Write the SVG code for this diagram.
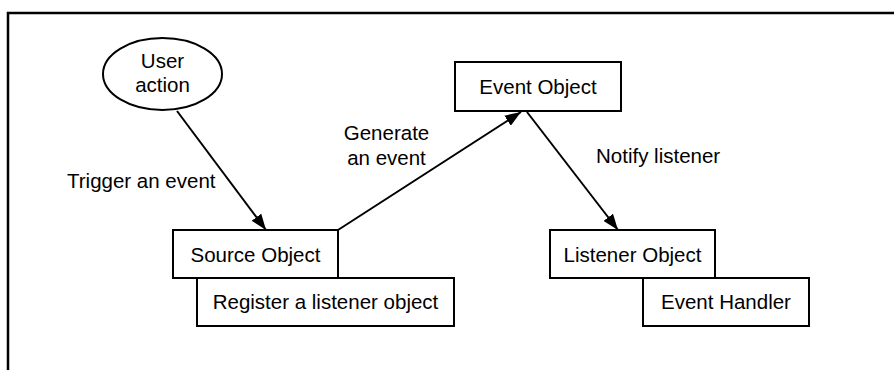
<svg xmlns="http://www.w3.org/2000/svg" width="894" height="370" viewBox="0 0 894 370">
<style>
.box{fill:#fff;stroke:#000;stroke-width:2}
.t{font-family:"Liberation Sans",Arial,sans-serif;font-size:20.5px;fill:#000}
.c{text-anchor:middle}
.edge{stroke:#000;stroke-width:2;fill:none;marker-end:url(#ah)}
</style>
<defs>
<marker id="ah" markerUnits="userSpaceOnUse" markerWidth="16" markerHeight="12" viewBox="0 0 16 12" refX="16" refY="6" orient="auto">
<path d="M0,0 L16,6 L0,12 z" fill="#000"/>
</marker>
</defs>
<rect width="894" height="370" fill="#fff"/>
<g id="frame">
<path d="M8,370 L8,13 L894,13" fill="none" stroke="#000" stroke-width="2.5"/>
</g>
<g id="connectors">
<line class="edge" x1="177" y1="111" x2="266" y2="230"/>
<line class="edge" x1="338" y1="230" x2="521" y2="112"/>
<line class="edge" x1="527" y1="112" x2="618" y2="230"/>
<text class="t" x="67" y="188">Trigger an event</text>
<text class="t c" x="386.5" y="140">Generate</text>
<text class="t c" x="386.5" y="165">an event</text>
<text class="t" x="596" y="163">Notify listener</text>
</g>
<g id="user-action">
<ellipse cx="162.5" cy="74" rx="59.5" ry="36" class="box"/>
<text class="t c" x="162.5" y="68">User</text>
<text class="t c" x="162.5" y="92">action</text>
</g>
<g id="event-object">
<rect class="box" x="455" y="62" width="166" height="49"/>
<text class="t c" x="538" y="94">Event Object</text>
</g>
<g id="source-object">
<rect class="box" x="173" y="230" width="165" height="48"/>
<text class="t c" x="255.5" y="262">Source Object</text>
</g>
<g id="register-listener">
<rect class="box" x="197" y="278" width="257" height="48"/>
<text class="t c" x="325.5" y="309">Register a listener object</text>
</g>
<g id="listener-object">
<rect class="box" x="550" y="230" width="165" height="48"/>
<text class="t c" x="632.5" y="262">Listener Object</text>
</g>
<g id="event-handler">
<rect class="box" x="643" y="278" width="166" height="48"/>
<text class="t c" x="726" y="309">Event Handler</text>
</g>
</svg>
